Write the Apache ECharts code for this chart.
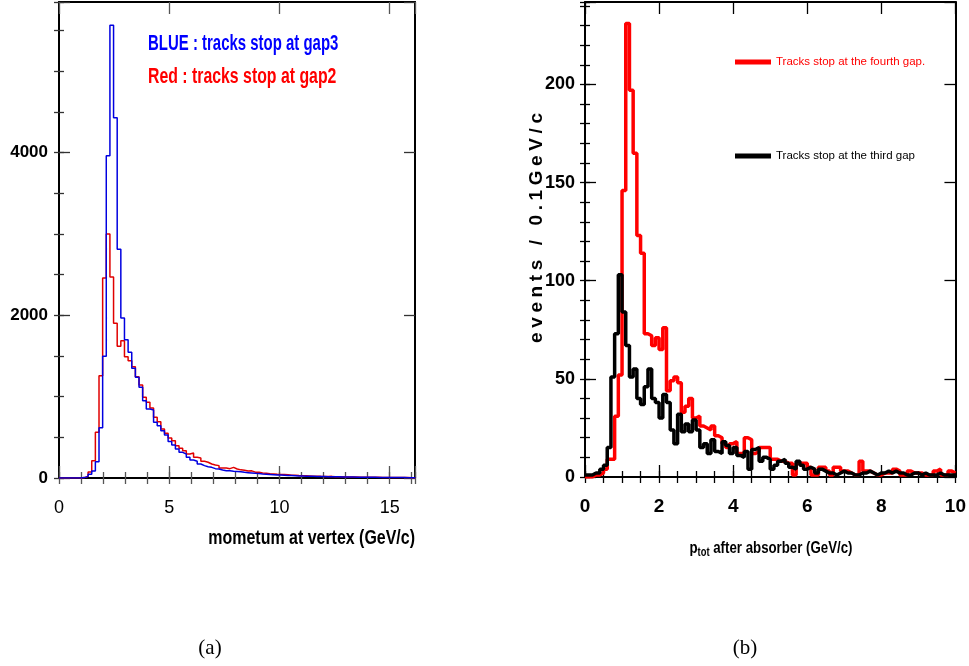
<!DOCTYPE html>
<html><head><meta charset="utf-8">
<script src="https://cdn.jsdelivr.net/npm/echarts@6/dist/echarts.min.js"></script>
<style>html,body{margin:0;padding:0;background:#fff}#c{width:969px;height:666px}</style>
</head><body><div id="c"></div>
<script>
// ---------- Panel (a): momentum at vertex, bin width 0.165 GeV/c ----------
var BIN_A = 0.165;
var blueA = [0,0,0,0,0,0,5,20,45,85,200,617,1497,3960,5565,4427,2812,1967,1700,1545,
  1348,1237,1114,950,848,836,684,643,582,530,450,406,356,315,295,254,221,205,172,152,
  139,131,115,111,98,90,88,82,80,76,70,66,62,57,54,50,47,44,41,38,
  36,34,31,30,28,26,25,23,22,21,19,18,17,16,16,15,14,13,12,12,
  11,10,10,9,9,8,8,7,7,6,6,6,5,5,5,4,4,4];
var redA = [0,0,0,0,0,0,5,20,74,213,561,1258,2458,2999,2470,1901,1618,1688,1491,1442,
  1368,1245,1143,991,930,860,746,692,602,549,492,459,397,365,336,295,307,254,246,205,
  193,172,160,152,123,123,115,131,110,100,95,85,88,72,70,62,58,52,50,46,
  44,42,40,35,33,30,28,27,25,23,22,20,19,18,20,16,15,14,13,12,
  12,11,10,10,9,9,8,8,7,7,6,6,6,5,5,5,4,4];
var xTicksA = [0, 5, 10, 15];
var yTicksA = [0, 2000, 4000];

// ---------- Panel (b): p_tot after absorber, bin width 0.1 GeV/c ----------
var BIN_B = 0.1;
var redB = [0,0,1,1,2,4,9,9,31,52,146,231,197,165,123,114,73,72,67,71,
  65,76,44,49,51,48,33,36,40,30,31,26,25,24,26,21,20,17,15,17,
  18,12,12,20,19,12,13,15,15,15,9,9,8,8,7,7,1,7,7,7,
  5,1,1,5,5,3,1,5,5,3,3,2,1,1,8,3,3,2,1,1,
  2,2,2,4,3,1,1,3,2,2,2,1,1,1,3,4,1,1,3,2];
var blackB = [1,1,2,2,4,6,15,51,73,103,84,67,51,55,40,37,46,55,40,38,
  30,42,38,24,17,32,23,27,23,29,24,15,17,12,19,13,12,18,16,12,
  15,11,10,13,4,14,15,8,10,9,4,6,8,9,7,5,4,8,6,4,
  5,4,2,4,3,2,2,1,2,3,2,2,1,1,2,2,3,2,1,2,
  2,3,2,3,2,2,1,1,2,2,1,2,1,1,1,2,1,1,1,1];
var xTicksB = [0, 2, 4, 6, 8, 10];
var yTicksB = [0, 50, 100, 150, 200];

var SANS = '"Liberation Sans", Arial, sans-serif';

function stepData(vals, w) {
  var d = [];
  for (var i = 0; i < vals.length; i++) d.push([i * w, vals[i]]);
  d.push([vals.length * w, vals[vals.length - 1]]);
  return d;
}
function labelFmt(list) {
  return function (v) {
    for (var i = 0; i < list.length; i++) if (Math.abs(list[i] - v) < 1e-6) return String(list[i]);
    return '';
  };
}

function xAxes(grid, min, max, major, minor, lbl) {
  var base = {gridIndex: grid, type: 'value', min: min, max: max, splitLine: {show: false}};
  var tc = lbl.tickColor;
  return [
    Object.assign({}, base, {position: 'bottom', interval: major,
      axisLine: {show: true, onZero: false, lineStyle: {color: '#000', width: 2}},
      axisTick: {show: true, inside: true, length: 12, lineStyle: {color: tc, width: 1.3}},
      axisLabel: {show: true, margin: lbl.margin, fontFamily: SANS, fontSize: lbl.size,
        fontWeight: lbl.weight, color: '#000', formatter: labelFmt(lbl.values)}}),
    Object.assign({}, base, {position: 'bottom', interval: minor,
      axisLine: {show: false}, axisTick: {show: true, inside: true, length: 6, lineStyle: {color: tc, width: 1.3}},
      axisLabel: {show: false}}),
    Object.assign({}, base, {position: 'top', interval: major,
      axisLine: {show: true, onZero: false, lineStyle: {color: '#000', width: 2}},
      axisTick: {show: true, inside: true, length: 12, lineStyle: {color: tc, width: 1.3}},
      axisLabel: {show: false}}),
    Object.assign({}, base, {position: 'top', interval: minor,
      axisLine: {show: false}, axisTick: {show: true, inside: true, length: 6, lineStyle: {color: tc, width: 1.3}},
      axisLabel: {show: false}})
  ];
}
function yAxes(grid, min, max, major, minor, lbl) {
  var base = {gridIndex: grid, type: 'value', min: min, max: max, splitLine: {show: false}};
  var tc = lbl.tickColor;
  return [
    Object.assign({}, base, {position: 'left', interval: major,
      axisLine: {show: true, onZero: false, lineStyle: {color: '#000', width: 2}},
      axisTick: {show: true, inside: true, length: 11, lineStyle: {color: tc, width: 1.3}},
      axisLabel: {show: true, margin: lbl.margin, fontFamily: SANS, fontSize: lbl.size,
        fontWeight: 'bold', color: '#000', formatter: labelFmt(lbl.values)}}),
    Object.assign({}, base, {position: 'left', interval: minor,
      axisLine: {show: false}, axisTick: {show: true, inside: true, length: 5, lineStyle: {color: tc, width: 1.3}},
      axisLabel: {show: false}}),
    Object.assign({}, base, {position: 'right', interval: major,
      axisLine: {show: true, onZero: false, lineStyle: {color: '#000', width: 2}},
      axisTick: {show: true, inside: true, length: 11, lineStyle: {color: tc, width: 1.3}},
      axisLabel: {show: false}}),
    Object.assign({}, base, {position: 'right', interval: minor,
      axisLine: {show: false}, axisTick: {show: true, inside: true, length: 5, lineStyle: {color: tc, width: 1.3}},
      axisLabel: {show: false}})
  ];
}

var xa = xAxes(0, 0, 16.15, 5, 1, {margin: 21, size: 18, weight: 'normal', tickColor: '#555', values: xTicksA})
  .concat(xAxes(1, 0, 10, 2, 0.5, {margin: 20, size: 19, weight: 'bold', tickColor: '#000', values: xTicksB}));
var ya = yAxes(0, 0, 5850, 2000, 500, {margin: 11, size: 17, tickColor: '#333', values: yTicksA})
  .concat(yAxes(1, 0, 242, 50, 10, {margin: 10, size: 18, tickColor: '#000', values: yTicksB}));

// letter-spaced rotated y title (each character its own rich token)
var yTitle = 'events / 0.1GeV/c';
var yTitleRich = yTitle.split('').map(function (ch) { return '{c|' + ch + '}'; }).join('');

var option = {
  animation: false,
  backgroundColor: '#fff',
  grid: [
    {left: 59, top: 2, width: 356, height: 476},
    {left: 585, top: 2, width: 371, height: 475}
  ],
  xAxis: xa,
  yAxis: ya,
  legend: {
    orient: 'vertical', left: 735, top: 56, padding: 0,
    itemWidth: 36, itemHeight: 5, itemGap: 82, icon: 'rect',
    textStyle: {fontFamily: SANS, fontSize: 11.5},
    data: [
      {name: 'Tracks stop at the fourth gap.', textStyle: {color: '#ff0000'}},
      {name: 'Tracks stop at the third gap', textStyle: {color: '#000'}}
    ]
  },
  series: [
    {name: 'Red : tracks stop at gap2', type: 'line', step: 'end', xAxisIndex: 0, yAxisIndex: 0,
      data: stepData(redA, BIN_A), symbol: 'none', color: '#e00000',
      lineStyle: {color: '#e00000', width: 1.5}},
    {name: 'BLUE : tracks stop at gap3', type: 'line', step: 'end', xAxisIndex: 0, yAxisIndex: 0,
      data: stepData(blueA, BIN_A), symbol: 'none', color: '#0000e0',
      lineStyle: {color: '#0000e0', width: 1.5}},
    {name: 'Tracks stop at the fourth gap.', type: 'line', step: 'end', xAxisIndex: 4, yAxisIndex: 4,
      data: stepData(redB, BIN_B), symbol: 'none', color: '#ff0000',
      lineStyle: {color: '#ff0000', width: 3.5}},
    {name: 'Tracks stop at the third gap', type: 'line', step: 'end', xAxisIndex: 4, yAxisIndex: 4,
      data: stepData(blackB, BIN_B), symbol: 'none', color: '#000',
      lineStyle: {color: '#000', width: 3.5}}
  ],
  graphic: [
    {type: 'text', x: 148, y: 44, scaleX: 0.68, style: {text: 'BLUE : tracks stop at gap3', fill: '#0000ff',
      font: 'bold 22px ' + SANS, align: 'left', verticalAlign: 'middle'}},
    {type: 'text', x: 148, y: 77, scaleX: 0.72, style: {text: 'Red : tracks stop at gap2', fill: '#ff0000',
      font: 'bold 22px ' + SANS, align: 'left', verticalAlign: 'middle'}},
    {type: 'text', x: 415, y: 538, scaleX: 0.76, style: {text: 'mometum at vertex (GeV/c)', fill: '#000',
      font: 'bold 21px ' + SANS, align: 'right', verticalAlign: 'middle'}},
    {type: 'text', x: 771, y: 548, scaleX: 0.78, style: {
      text: '{p|p}{s|tot}{p| after absorber (GeV/c)}', align: 'center', verticalAlign: 'middle',
      rich: {
        p: {fontFamily: SANS, fontSize: 17, fontWeight: 'bold', fill: '#000', lineHeight: 22},
        s: {fontFamily: SANS, fontSize: 12, fontWeight: 'bold', fill: '#000', lineHeight: 12,
            verticalAlign: 'bottom', padding: [9, 0, 0, 0]}
      }}},
    {type: 'text', x: 537, y: 228, rotation: Math.PI / 2, style: {text: yTitleRich,
      align: 'center', verticalAlign: 'middle',
      rich: {c: {fontFamily: SANS, fontSize: 19, fontWeight: 'bold', fill: '#000', padding: [0, 2.3, 0, 2.3]}}}},
    {type: 'text', x: 210, y: 648, style: {text: '(a)', fill: '#000',
      font: '21px "Liberation Serif", "DejaVu Serif", serif', align: 'center', verticalAlign: 'middle'}},
    {type: 'text', x: 745, y: 648, style: {text: '(b)', fill: '#000',
      font: '21px "Liberation Serif", "DejaVu Serif", serif', align: 'center', verticalAlign: 'middle'}}
  ]
};
echarts.init(document.getElementById('c')).setOption(option);
</script></body></html>
